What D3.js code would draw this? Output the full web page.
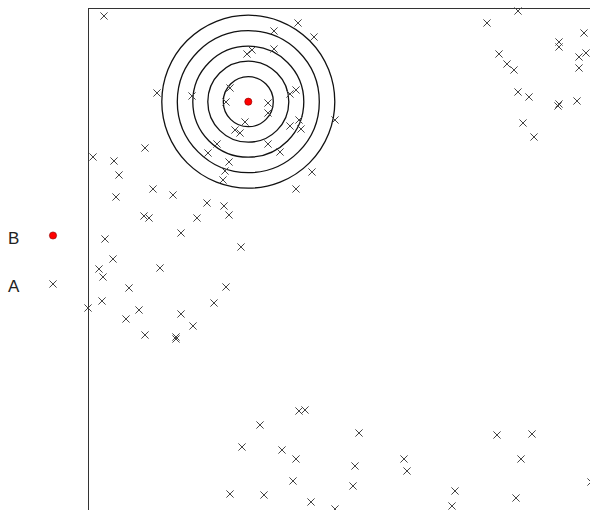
<!DOCTYPE html>
<html>
<head>
<meta charset="utf-8">
<script src="https://cdn.jsdelivr.net/npm/d3@7"></script>
<style>
  body { margin: 0; background: #fff; }
</style>
</head>
<body>
<div id="chart"></div>
<script>
// Set dimensions
const width = 590;
const height = 510;

// Group A points (data units)
const ax = [1.6, 21.0, 18.6, 22.6, 16.4, 15.9, 18.6, 6.9, 10.4, 14.2, 13.8, 18.0, 18.0, 20.8, 20.2,
  15.7, 14.7, 15.2, 21.1, 20.2, 21.3, 24.7, 18.0, 12.9, 12.0, 19.2, 14.1, 13.7, 13.5, 22.4, 20.8,
  5.7, 0.5, 2.6, 3.1, 2.8, 6.5, 8.5, 11.9, 13.6, 14.1, 5.6, 6.1, 10.9, 9.3, 15.3, 1.7, 2.5, 1.1,
  1.5, 7.2, 4.1, 13.8, 1.4, 0.0, 12.6, 5.1, 3.8, 9.3, 10.5, 5.7, 8.8, 8.8,
  43.0, 39.9, 49.6, 47.1, 47.1, 49.1, 49.8, 49.1, 41.1, 41.9, 42.6, 43.0, 44.1, 47.0, 47.1, 48.9,
  43.5, 44.6,
  21.1, 21.7, 17.2, 27.1, 15.4, 19.4, 20.8, 26.7, 31.6, 31.9, 20.5, 26.5, 14.2, 17.6, 22.3, 24.7,
  36.7, 36.4, 40.9, 44.4, 43.3, 42.8, 50.3];
const ay = [49.2, 48.5, 47.7, 47.1, 45.8, 45.4, 45.9, 41.5, 41.2, 42.0, 40.6, 40.5, 39.5, 41.8, 41.4,
  38.6, 37.8, 37.5, 38.8, 38.2, 37.9, 38.8, 36.4, 36.4, 35.5, 35.6, 34.6, 33.7, 32.8, 33.6, 31.9,
  36.0, 35.1, 34.7, 33.3, 31.1, 31.9, 31.3, 30.5, 30.2, 29.3, 29.2, 29.0, 29.0, 27.5, 26.1, 26.9,
  24.9, 23.9, 23.1, 24.0, 22.0, 22.1, 20.7, 20.0, 20.5, 19.8, 18.9, 19.4, 18.2, 17.3, 17.1, 16.9,
  49.7, 48.5, 47.5, 46.6, 46.1, 45.1, 45.5, 44.0, 45.4, 44.4, 43.8, 41.6, 41.1, 40.2, 40.4, 40.7,
  38.5, 37.1,
  9.7, 9.8, 8.3, 7.5, 6.1, 5.8, 4.9, 4.2, 4.9, 3.7, 2.7, 2.2, 1.4, 1.3, 0.6, -0.1,
  1.7, 0.2, 7.3, 7.4, 4.9, 1.0, 2.6];

// Group B point and the rings around it
const bx = [16.03];
const by = [40.63];
const ringRadii = [2.5, 4.05, 5.55, 7.1, 8.65];

// Legend entries
const legendLabels = ["B", "A"];

const svg = d3.select("#chart")
  .append("svg")
  .attr("width", width)
  .attr("height", height);

// Scales (plot runs off the right and bottom of the page)
const x = d3.scaleLinear().domain([0, 50]).range([88, 588]);
const y = d3.scaleLinear().domain([0, 50]).range([508, 8]);

// Frame
svg.append("rect")
  .attr("x", x(0) + 0.5)
  .attr("y", y(50) + 0.5)
  .attr("width", 1000)
  .attr("height", 1000)
  .attr("fill", "none")
  .attr("stroke", "#333")
  .attr("stroke-width", 1);

// Rings
const pxPerUnit = x(1) - x(0);
svg.selectAll(".ring")
  .data(ringRadii)
  .join("circle")
  .attr("class", "ring")
  .attr("cx", x(bx[0]))
  .attr("cy", y(by[0]))
  .attr("r", d => d * pxPerUnit)
  .attr("fill", "none")
  .attr("stroke", "#111")
  .attr("stroke-width", 1.3);

// Cross marker path
const s = 3.6;
const crossPath = `M${-s},${-s}L${s},${s}M${-s},${s}L${s},${-s}`;

const pointsA = ax.map((v, i) => ({ x: v, y: ay[i] }));
svg.selectAll(".ptA")
  .data(pointsA)
  .join("path")
  .attr("class", "ptA")
  .attr("transform", d => `translate(${x(d.x)},${y(d.y)})`)
  .attr("d", crossPath)
  .attr("stroke", "#444")
  .attr("stroke-width", 1)
  .attr("fill", "none");

// B point
svg.selectAll(".ptB")
  .data(bx.map((v, i) => ({ x: v, y: by[i] })))
  .join("circle")
  .attr("class", "ptB")
  .attr("cx", d => x(d.x))
  .attr("cy", d => y(d.y))
  .attr("r", 3.6)
  .attr("fill", "#ff0000")
  .attr("stroke", "#800")
  .attr("stroke-width", 0.6);

// Legend
const legend = svg.append("g");
const legendY = [236, 284];
legend.selectAll("text")
  .data(legendLabels)
  .join("text")
  .attr("x", 8)
  .attr("y", (d, i) => legendY[i] + 7.5)
  .style("font-family", "'Liberation Sans', Arial, sans-serif")
  .style("font-size", "17px")
  .attr("fill", "#222")
  .text(d => d);

legend.append("circle")
  .attr("cx", 53)
  .attr("cy", legendY[0] - 0.5)
  .attr("r", 3.6)
  .attr("fill", "#ff0000")
  .attr("stroke", "#800")
  .attr("stroke-width", 0.6);

legend.append("path")
  .attr("transform", `translate(53,${legendY[1]})`)
  .attr("d", crossPath)
  .attr("stroke", "#444")
  .attr("stroke-width", 1)
  .attr("fill", "none");
</script>
</body>
</html>
